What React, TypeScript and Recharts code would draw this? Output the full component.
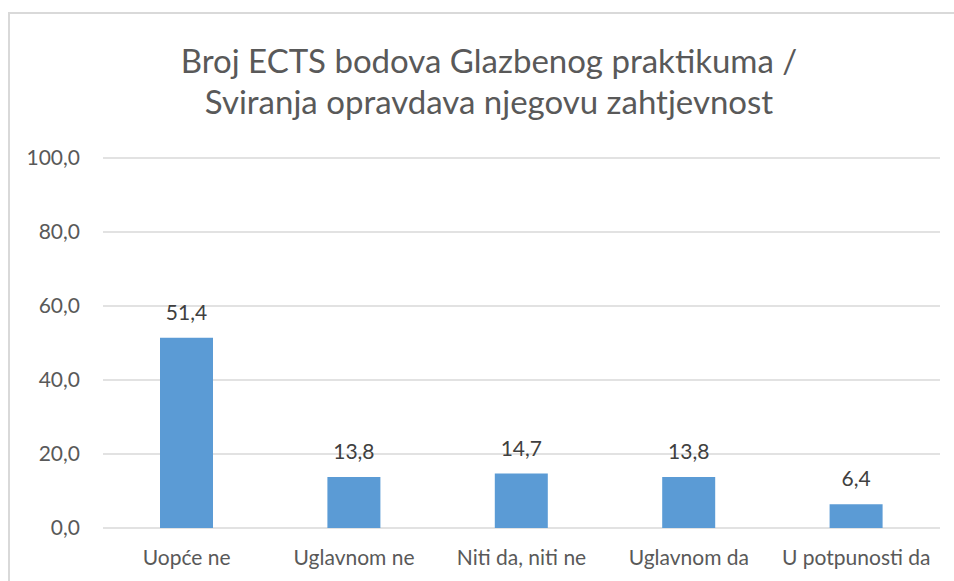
import { BarChart, Bar, XAxis, YAxis, CartesianGrid, LabelList } from 'recharts';

const categories = ['Uopće ne', 'Uglavnom ne', 'Niti da, niti ne', 'Uglavnom da', 'U potpunosti da'];
const values = [51.4, 13.8, 14.7, 13.8, 6.4];
const yTicks = [0, 20, 40, 60, 80, 100];
const titleLines = ['Broj ECTS bodova Glazbenog praktikuma /', 'Sviranja opravdava njegovu zahtjevnost'];

const FONT = 'Lato, "Noto Sans", sans-serif';
const fmt = (v: number) => v.toFixed(1).replace('.', ',');

export default function App() {
  const data = categories.map((name, i) => ({ name, value: values[i] }));

  return (
    <div style={{ position: 'absolute', left: 0, top: 0, width: 954, height: 581, overflow: 'hidden', background: '#fff', fontFamily: FONT }}>
      {/* chart frame, cropped on right and bottom like the source */}
      <div
        style={{
          position: 'absolute', left: 8, top: 12, width: 1000, height: 640,
          borderLeft: '2px solid #d9d9d9', borderTop: '2px solid #d9d9d9',
        }}
      />
      <div
        style={{
          position: 'absolute', left: 0, width: 978, top: 40, textAlign: 'center',
          fontSize: 33, lineHeight: '41px', color: '#595959',
        }}
      >
        {titleLines.map((t) => <div key={t}>{t}</div>)}
      </div>
      <div style={{ position: 'absolute', left: 0, top: 0 }}>
        <BarChart width={954} height={581} data={data} margin={{ top: 158, right: 14, left: 0, bottom: 0 }}>
          <CartesianGrid vertical={false} stroke="#d9d9d9" strokeWidth={1.5} />
          <XAxis
            dataKey="name" height={53} axisLine={false} tickLine={false} tickMargin={16}
            tick={{ fontSize: 21, fill: '#595959', fontFamily: FONT }} interval={0}
          />
          <YAxis
            width={103} domain={[0, 100]} ticks={yTicks} tickFormatter={fmt}
            axisLine={false} tickLine={false} tickMargin={17}
            tick={{ fontSize: 21, fill: '#595959', fontFamily: FONT }}
          />
          <Bar dataKey="value" fill="#5b9bd5" barSize={53} isAnimationActive={false}>
            <LabelList dataKey="value" position="top" offset={18} formatter={(v: number) => fmt(v)}
              style={{ fontSize: 21, fill: '#404040', fontFamily: FONT }} />
          </Bar>
        </BarChart>
      </div>
    </div>
  );
}
